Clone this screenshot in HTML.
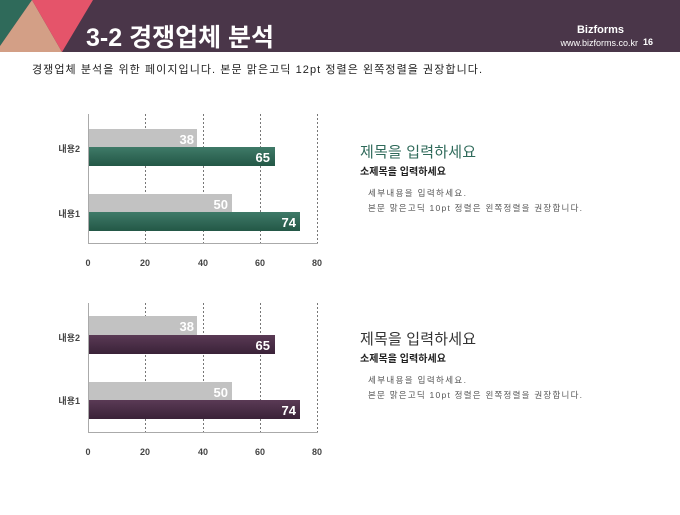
<!DOCTYPE html>
<html><head><meta charset="utf-8"><style>
body{margin:0;width:680px;height:510px;background:#fff;overflow:hidden;font-family:"Liberation Sans","Noto Sans CJK KR",sans-serif}
</style></head><body>
<svg width="680" height="510" xmlns="http://www.w3.org/2000/svg" font-family="'Liberation Sans','Noto Sans CJK KR',sans-serif">
<defs>
<linearGradient id="g" x1="0" y1="0" x2="0" y2="1"><stop offset="0" stop-color="#3f7a68"/><stop offset="1" stop-color="#235746"/></linearGradient>
<linearGradient id="p" x1="0" y1="0" x2="0" y2="1"><stop offset="0" stop-color="#5a3a55"/><stop offset="1" stop-color="#3a2238"/></linearGradient>
</defs>
<rect x="0" y="0" width="680" height="52" fill="#4a3649"/>
<polygon points="0,0 32,0 0,46" fill="#2f6a5a"/>
<polygon points="32,0 62,52 0,52 0,46" fill="#d39f86"/>
<polygon points="32,0 93,0 62,52" fill="#e5546a"/>
<text x="86" y="46" font-size="25" font-weight="bold" fill="#fff">3-2 경쟁업체 분석</text>
<text x="624" y="33" font-size="11" font-weight="bold" fill="#fff" text-anchor="end">Bizforms</text>
<text x="638" y="46" font-size="9" fill="#fff" text-anchor="end">www.bizforms.co.kr</text>
<text x="643" y="45" font-size="9" font-weight="bold" fill="#fff">16</text>
<text x="32" y="73" font-size="11" fill="#222" textLength="450" lengthAdjust="spacing">경쟁업체 분석을 위한 페이지입니다. 본문 맑은고딕 12pt 정렬은 왼쪽정렬을 권장합니다.</text>

<g id="c1">
<g stroke="#777" stroke-dasharray="2,2" stroke-width="1">
<line x1="145.5" y1="114" x2="145.5" y2="243"/><line x1="203.5" y1="114" x2="203.5" y2="243"/><line x1="260.5" y1="114" x2="260.5" y2="243"/><line x1="317.5" y1="114" x2="317.5" y2="243"/>
</g>
<line x1="88.5" y1="114" x2="88.5" y2="243" stroke="#aaa"/>
<line x1="88" y1="243.5" x2="318" y2="243.5" stroke="#aaa"/>
<rect x="89" y="129" width="108" height="18" fill="#c2c2c2"/>
<rect x="89" y="147" width="186" height="19" fill="url(#g)"/>
<rect x="89" y="194" width="143" height="18" fill="#c2c2c2"/>
<rect x="89" y="212" width="211" height="19" fill="url(#g)"/>
<g font-size="13" font-weight="bold" fill="#fff" text-anchor="end">
<text x="194" y="144">38</text><text x="270" y="162">65</text><text x="228" y="209">50</text><text x="296" y="227">74</text></g>
<g font-size="9" font-weight="bold" fill="#444" text-anchor="end"><text x="80" y="152">내용2</text><text x="80" y="217">내용1</text></g>
<g font-size="9" font-weight="bold" fill="#444" text-anchor="middle"><text x="88" y="266">0</text><text x="145" y="266">20</text><text x="203" y="266">40</text><text x="260" y="266">60</text><text x="317" y="266">80</text></g>
</g>
<text x="360" y="157" font-size="15" fill="#2f6a5a" textLength="116" lengthAdjust="spacing">제목을 입력하세요</text>
<text x="360" y="175" font-size="10" font-weight="bold" fill="#222" textLength="86" lengthAdjust="spacing">소제목을 입력하세요</text>
<text x="368" y="196" font-size="8.5" fill="#555" textLength="98" lengthAdjust="spacing">세부내용을 입력하세요.</text>
<text x="368" y="211" font-size="8.5" fill="#555" textLength="214" lengthAdjust="spacing">본문 맑은고딕 10pt 정렬은 왼쪽정렬을 권장합니다.</text>

<g transform="translate(0,189)">
<g stroke="#777" stroke-dasharray="2,2" stroke-width="1">
<line x1="145.5" y1="114" x2="145.5" y2="243"/><line x1="203.5" y1="114" x2="203.5" y2="243"/><line x1="260.5" y1="114" x2="260.5" y2="243"/><line x1="317.5" y1="114" x2="317.5" y2="243"/>
</g>
<line x1="88.5" y1="114" x2="88.5" y2="243" stroke="#aaa"/>
<line x1="88" y1="243.5" x2="318" y2="243.5" stroke="#aaa"/>
<rect x="89" y="127" width="108" height="19" fill="#c2c2c2"/>
<rect x="89" y="146" width="186" height="19" fill="url(#p)"/>
<rect x="89" y="193" width="143" height="18" fill="#c2c2c2"/>
<rect x="89" y="211" width="211" height="19" fill="url(#p)"/>
<g font-size="13" font-weight="bold" fill="#fff" text-anchor="end">
<text x="194" y="142">38</text><text x="270" y="161">65</text><text x="228" y="208">50</text><text x="296" y="226">74</text></g>
<g font-size="9" font-weight="bold" fill="#444" text-anchor="end"><text x="80" y="152">내용2</text><text x="80" y="215">내용1</text></g>
<g font-size="9" font-weight="bold" fill="#444" text-anchor="middle"><text x="88" y="266">0</text><text x="145" y="266">20</text><text x="203" y="266">40</text><text x="260" y="266">60</text><text x="317" y="266">80</text></g>
<text x="360" y="155" font-size="15" fill="#333" textLength="116" lengthAdjust="spacing">제목을 입력하세요</text>
<text x="360" y="173" font-size="10" font-weight="bold" fill="#222" textLength="86" lengthAdjust="spacing">소제목을 입력하세요</text>
<text x="368" y="194" font-size="8.5" fill="#555" textLength="98" lengthAdjust="spacing">세부내용을 입력하세요.</text>
<text x="368" y="209" font-size="8.5" fill="#555" textLength="214" lengthAdjust="spacing">본문 맑은고딕 10pt 정렬은 왼쪽정렬을 권장합니다.</text>
</g>
</svg>
</body></html>
